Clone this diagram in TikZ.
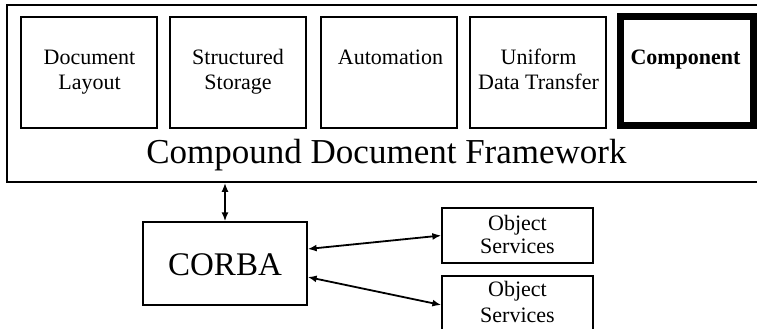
\documentclass[tikz,border=0pt]{standalone}
\usepackage{fontspec}
\setmainfont{Liberation Serif}
\usetikzlibrary{arrows.meta}
\begin{document}
\begin{tikzpicture}[x=1pt,y=-1pt,
  box/.style={draw, line width=1.3pt, inner sep=0pt, rectangle},
  txt/.style={font=\fontsize{22}{25}\selectfont, align=center, anchor=base, inner sep=0pt},
  link/.style={line width=1.8pt, {Latex[length=9pt,width=7pt]}-{Latex[length=9pt,width=7pt]}}
]
\useasboundingbox (0,0) rectangle (757,329);
\clip (0,0) rectangle (757,329);
% framework
\node[box, line width=1.6pt, minimum width=763pt, minimum height=177pt] (frame) at (388.5,93.5) {};
\node[box, minimum width=136pt, minimum height=111pt] (b1) at (89,72.5) {};
\node[box, minimum width=136pt, minimum height=111pt] (b2) at (238,72.5) {};
\node[box, minimum width=136pt, minimum height=111pt] (b3) at (389,72.5) {};
\node[box, minimum width=136pt, minimum height=111pt] (b4) at (538,72.5) {};
\node[box, line width=7pt, minimum width=133pt, minimum height=109pt] (b5) at (687,71) {};
% two-line nodes: base anchor sits on the last line
\node[txt] (t1) at (89.5,89) {Document\\Layout};
\node[txt] (t2) at (238,89) {Structured\\Storage};
\node[txt] (t3) at (390.5,64) {Automation};
\node[txt] (t4) at (538.5,89) {Uniform\\Data Transfer};
\node[txt, font=\fontsize{22}{25}\selectfont\bfseries] (t5) at (685.5,64) {Component};
\node[txt, font=\fontsize{35}{40}\selectfont] (title) at (386.5,163) {Compound Document Framework};
% CORBA
\node[box, minimum width=164pt, minimum height=83pt] (corba) at (225,263.5) {};
\node[txt, font=\fontsize{33}{38}\selectfont] (ct) at (225,275) {CORBA};
% object services
\node[box, minimum width=151pt, minimum height=55pt] (osa) at (517.5,235.5) {};
\node[box, minimum width=151pt, minimum height=55pt] (osb) at (517.5,303.5) {};
\node[txt, font=\fontsize{22}{23}\selectfont] (osat) at (517.5,253) {Object\\Services};
\node[txt, font=\fontsize{22}{26}\selectfont] (osbt) at (517.5,322) {Object\\Services};
% connectors
\draw[link] (corba.north |- frame.south) -- (corba.north);
\draw[link] ([yshift=14.5pt]corba.east) -- (osa.west);
\draw[link] ([yshift=-13.5pt]corba.east) -- ([yshift=-1.5pt]osb.west);
\end{tikzpicture}
\end{document}
